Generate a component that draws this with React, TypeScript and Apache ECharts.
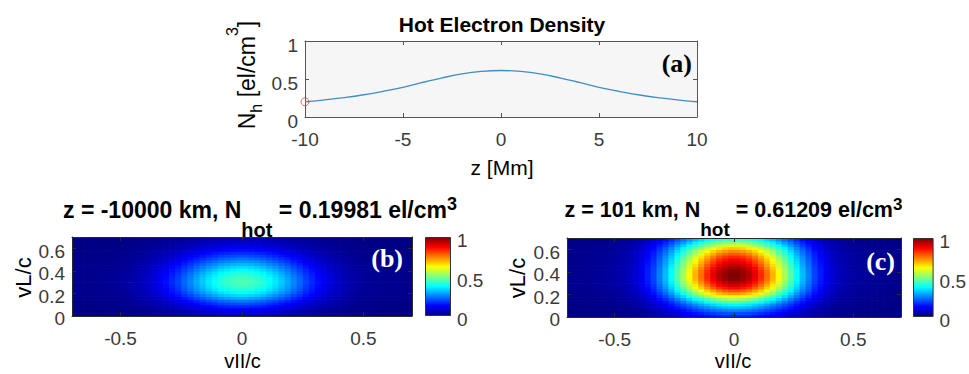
import React, { useEffect, useRef } from 'react';
import * as echarts from 'echarts';

// ---------- data ----------
// (a) hot electron density along z
const zMm = [-10, -9, -8, -7, -6, -5, -4, -3, -2, -1, 0, 1, 2, 3, 4, 5, 6, 7, 8, 9, 10];
const nHot = [0.2, 0.225, 0.255, 0.292, 0.338, 0.39, 0.455, 0.515, 0.567, 0.6, 0.612, 0.6, 0.567, 0.515, 0.455, 0.39, 0.338, 0.292, 0.255, 0.225, 0.2];
const markerZ = [-10];
const markerN = [0.19981];
const zTicks = [-10, -5, 0, 5, 10];
const nTicks = [0, 0.5, 1];

// velocity grid cell centres (v/c)
const vParCenters = [
  -0.6875, -0.6625, -0.6375, -0.6125, -0.5875, -0.5625, -0.5375, -0.5125, -0.4875, -0.4625,
  -0.4375, -0.4125, -0.3875, -0.3625, -0.3375, -0.3125, -0.2875, -0.2625, -0.2375, -0.2125,
  -0.1875, -0.1625, -0.1375, -0.1125, -0.0875, -0.0625, -0.0375, -0.0125,
  0.0125, 0.0375, 0.0625, 0.0875, 0.1125, 0.1375, 0.1625, 0.1875, 0.2125, 0.2375,
  0.2625, 0.2875, 0.3125, 0.3375, 0.3625, 0.3875, 0.4125, 0.4375, 0.4625, 0.4875,
  0.5125, 0.5375, 0.5625, 0.5875, 0.6125, 0.6375, 0.6625, 0.6875,
];
const vPerpCenters = [
  0.0125, 0.0375, 0.0625, 0.0875, 0.1125, 0.1375, 0.1625, 0.1875, 0.2125, 0.2375,
  0.2625, 0.2875, 0.3125, 0.3375, 0.3625, 0.3875, 0.4125, 0.4375, 0.4625, 0.4875,
  0.5125, 0.5375, 0.5625, 0.5875, 0.6125, 0.6375, 0.6625, 0.6875,
];

// (b) z = -10000 km : profiles through the peak (relative), and the peak level
const bParProfile = [
  0.02, 0.022, 0.025, 0.028, 0.032, 0.037, 0.043, 0.05, 0.06, 0.08, 0.1, 0.13, 0.16, 0.2,
  0.25, 0.3, 0.36, 0.42, 0.5, 0.57, 0.65, 0.72, 0.79, 0.85, 0.91, 0.95, 0.98, 1,
  1, 0.98, 0.95, 0.91, 0.85, 0.79, 0.72, 0.65, 0.57, 0.5, 0.42, 0.36, 0.3, 0.25,
  0.2, 0.16, 0.13, 0.1, 0.08, 0.06, 0.05, 0.043, 0.037, 0.032, 0.028, 0.025, 0.022, 0.02,
];
const bPerpProfile = [
  0.15, 0.2, 0.27, 0.35, 0.44, 0.54, 0.65, 0.75, 0.84, 0.91, 0.96, 0.99, 1, 0.98,
  0.95, 0.9, 0.83, 0.76, 0.68, 0.6, 0.52, 0.44, 0.37, 0.3, 0.24, 0.19, 0.15, 0.11,
];
const bPeak = 0.45;

// (c) z = 101 km
const cParProfile = [
  0.01, 0.012, 0.014, 0.016, 0.019, 0.022, 0.026, 0.03, 0.037, 0.047, 0.06, 0.08, 0.11, 0.15,
  0.19, 0.25, 0.31, 0.38, 0.46, 0.54, 0.62, 0.7, 0.77, 0.84, 0.9, 0.95, 0.98, 1,
  1, 0.98, 0.95, 0.9, 0.84, 0.77, 0.7, 0.62, 0.54, 0.46, 0.38, 0.31, 0.25, 0.19,
  0.15, 0.11, 0.08, 0.06, 0.047, 0.037, 0.03, 0.026, 0.022, 0.019, 0.016, 0.014, 0.012, 0.01,
];
const cPerpProfile = [
  0.16, 0.2, 0.25, 0.31, 0.37, 0.45, 0.54, 0.63, 0.72, 0.8, 0.87, 0.92, 0.96, 0.99,
  1, 1, 0.99, 0.97, 0.94, 0.91, 0.88, 0.84, 0.79, 0.74, 0.68, 0.6, 0.52, 0.44,
];
const cPeak = 1;

const vParTicks = [-0.5, 0, 0.5];
const vPerpTicks = [0, 0.2, 0.4, 0.6];
const colorbarTicks = [0, 0.5, 1];
const colorbarValue = [1];

// ---------- styling ----------
const SANS = '"Liberation Sans", Arial, Helvetica, sans-serif';
const SERIF = '"Liberation Serif", "Times New Roman", serif';
const TICK_COLOR = '#3a3a3a';
const AXIS_COLOR = '#2a2a2a';
const JET = ['#000083', '#0000ff', '#0080ff', '#00ffff', '#80ff80', '#ffff00', '#ff8000', '#ff0000', '#800000'];

type Part = { t: string; s: number; dy?: number };

let measureCtx: CanvasRenderingContext2D | null = null;
function textWidth(t: string, size: number, weight: string) {
  if (!measureCtx) measureCtx = document.createElement('canvas').getContext('2d');
  measureCtx!.font = `${weight} ${size}px ${SANS}`;
  return measureCtx!.measureText(t).width;
}

// text with sub/superscripts; (x,y) = centre of the run on the main baseline
function texLabel(parts: Part[], x: number, y: number, weight: string, rotation = 0, color = '#000') {
  const widths = parts.map((p) => textWidth(p.t, p.s, weight));
  const total = widths.reduce((a, b) => a + b, 0);
  let cursor = -total / 2;
  const children: any[] = [];
  parts.forEach((p, i) => {
    const trimmedStart = p.t.replace(/^\s+/, '');
    const lead = p.t.length - trimmedStart.length;
    const leadW = lead ? textWidth(p.t.slice(0, lead), p.s, weight) : 0;
    children.push({
      type: 'text',
      x: cursor + leadW,
      y: (p.dy || 0) - 0.3465 * p.s,
      style: {
        text: trimmedStart.replace(/\s+$/, ''),
        fontSize: p.s,
        fontWeight: weight,
        fontFamily: SANS,
        fill: color,
        textAlign: 'left',
        textVerticalAlign: 'middle',
      },
    });
    cursor += widths[i];
  });
  return { type: 'group', x, y, rotation, children };
}

function buildHeat(par: number[], perp: number[], peak: number) {
  const out: number[][] = [];
  vPerpCenters.forEach((vy, j) => {
    vParCenters.forEach((vx, i) => {
      out.push([vx, vy, peak * par[i] * perp[j]]);
    });
  });
  return out;
}

const cellW = vParCenters[1] - vParCenters[0];
const cellH = vPerpCenters[1] - vPerpCenters[0];

function heatRender(params: any, api: any) {
  const x = api.value(0);
  const y = api.value(1);
  const p0 = api.coord([x - cellW / 2, y + cellH / 2]);
  const p1 = api.coord([x + cellW / 2, y - cellH / 2]);
  const cs = params.coordSys;
  const right = Math.min(p1[0] + 0.7, cs.x + cs.width);
  const bottom = Math.min(p1[1] + 0.7, cs.y + cs.height);
  return {
    type: 'rect',
    shape: { x: p0[0], y: p0[1], width: right - p0[0], height: bottom - p0[1] },
    style: { fill: api.visual('color') },
  };
}

const tickLabel = (size = 19) => ({ fontSize: size, fontFamily: SANS, color: TICK_COLOR });

// y tick labels sit a few pixels below their ticks in the reference
const shiftedY = (shift: number) => ({ verticalAlign: 'top', lineHeight: shift * 2 });

function heatAxes(gridIndex: number) {
  const x = [
    {
      type: 'value', gridIndex, min: -0.7, max: 0.7, position: 'bottom',
      axisLine: { show: true, onZero: false, lineStyle: { color: AXIS_COLOR, width: 1 } },
      axisTick: { show: true, inside: true, length: 4, customValues: vParTicks, lineStyle: { color: AXIS_COLOR } },
      axisLabel: { ...tickLabel(19), margin: 13, customValues: vParTicks },
      splitLine: { show: false }, z: 10,
    },
    {
      type: 'value', gridIndex, min: -0.7, max: 0.7, position: 'top',
      axisLine: { show: true, onZero: false, lineStyle: { color: AXIS_COLOR, width: 1 } },
      axisTick: { show: true, inside: true, length: 4, customValues: vParTicks, lineStyle: { color: AXIS_COLOR } },
      axisLabel: { show: false }, splitLine: { show: false }, z: 10,
    },
  ];
  const y = [
    {
      type: 'value', gridIndex, min: 0, max: 0.7, position: 'left',
      axisLine: { show: true, onZero: false, lineStyle: { color: AXIS_COLOR, width: 1 } },
      axisTick: { show: true, inside: true, length: 4, customValues: vPerpTicks, lineStyle: { color: AXIS_COLOR } },
      axisLabel: { ...tickLabel(19), margin: 7, customValues: vPerpTicks, ...shiftedY(2.8) },
      splitLine: { show: false }, z: 10,
    },
    {
      type: 'value', gridIndex, min: 0, max: 0.7, position: 'right',
      axisLine: { show: true, onZero: false, lineStyle: { color: AXIS_COLOR, width: 1 } },
      axisTick: { show: true, inside: true, length: 4, customValues: vPerpTicks, lineStyle: { color: AXIS_COLOR } },
      axisLabel: { show: false }, splitLine: { show: false }, z: 10,
    },
  ];
  return { x, y };
}

function colorbarAxes(gridIndex: number) {
  return {
    x: {
      type: 'category', gridIndex, data: [''], show: false, boundaryGap: true,
    },
    y: {
      type: 'value', gridIndex, min: colorbarTicks[0], max: colorbarTicks[2], interval: colorbarTicks[1] - colorbarTicks[0],
      position: 'right',
      axisLine: { show: false }, axisTick: { show: false }, splitLine: { show: false },
      axisLabel: { ...tickLabel(19), margin: 6, ...shiftedY(3.5) },
    },
  };
}

export default function App() {
  const ref = useRef<HTMLDivElement>(null);

  useEffect(() => {
    document.body.style.margin = '0';
    if (!ref.current) return;
    const chart = echarts.init(ref.current, undefined, { renderer: 'svg' });

    const hb = heatAxes(1);
    const hc = heatAxes(2);
    const cbb = colorbarAxes(3);
    const cbc = colorbarAxes(4);

    const gradient = new echarts.graphic.LinearGradient(
      0, 1, 0, 0,
      JET.map((c, i) => ({ offset: i / (JET.length - 1), color: c })),
    );

    const option: any = {
      animation: false,
      backgroundColor: '#ffffff',
      grid: [
        { left: 305, top: 41, width: 392, height: 76, show: true, backgroundColor: '#f6f6f6', borderWidth: 0 },
        { left: 72, top: 237, width: 340, height: 79 },
        { left: 567, top: 238, width: 334, height: 79 },
        { left: 425, top: 237, width: 26, height: 79 },
        { left: 913, top: 238, width: 25, height: 79 },
      ],
      xAxis: [
        {
          type: 'value', gridIndex: 0, min: zTicks[0], max: zTicks[zTicks.length - 1], interval: zTicks[1] - zTicks[0],
          position: 'bottom',
          axisLine: { show: true, onZero: false, lineStyle: { color: '#555', width: 1 } },
          axisTick: { show: true, inside: true, length: 4, lineStyle: { color: '#555' } },
          axisLabel: { ...tickLabel(19), margin: 13 },
          splitLine: { show: false },
        },
        {
          type: 'value', gridIndex: 0, min: zTicks[0], max: zTicks[zTicks.length - 1], interval: zTicks[1] - zTicks[0],
          position: 'top',
          axisLine: { show: true, onZero: false, lineStyle: { color: '#555', width: 1 } },
          axisTick: { show: true, inside: true, length: 4, lineStyle: { color: '#555' } },
          axisLabel: { show: false }, splitLine: { show: false },
        },
        hb.x[0], hb.x[1], hc.x[0], hc.x[1], cbb.x, cbc.x,
      ],
      yAxis: [
        {
          type: 'value', gridIndex: 0, min: nTicks[0], max: nTicks[2], interval: nTicks[1] - nTicks[0],
          position: 'left',
          axisLine: { show: true, onZero: false, lineStyle: { color: '#555', width: 1 } },
          axisTick: { show: true, inside: true, length: 4, lineStyle: { color: '#555' } },
          axisLabel: { ...tickLabel(19), margin: 7, ...shiftedY(4.5) },
          splitLine: { show: false },
        },
        {
          type: 'value', gridIndex: 0, min: nTicks[0], max: nTicks[2], interval: nTicks[1] - nTicks[0],
          position: 'right',
          axisLine: { show: true, onZero: false, lineStyle: { color: '#555', width: 1 } },
          axisTick: { show: true, inside: true, length: 4, lineStyle: { color: '#555' } },
          axisLabel: { show: false }, splitLine: { show: false },
        },
        hb.y[0], hb.y[1], hc.y[0], hc.y[1], cbb.y, cbc.y,
      ],
      visualMap: {
        type: 'continuous', show: false, min: 0, max: 1, dimension: 2, seriesIndex: [2, 3],
        inRange: { color: JET },
      },
      series: [
        {
          type: 'line', xAxisIndex: 0, yAxisIndex: 0, smooth: 0.4, showSymbol: false,
          data: zMm.map((z, i) => [z, nHot[i]]),
          lineStyle: { color: '#3f8fc4', width: 1.4 },
          itemStyle: { color: '#3f8fc4' },
        },
        {
          type: 'scatter', xAxisIndex: 0, yAxisIndex: 0, symbol: 'circle', symbolSize: 8,
          data: markerZ.map((z, i) => [z, markerN[i]]),
          itemStyle: { color: 'rgba(0,0,0,0)', borderColor: '#d0504f', borderWidth: 1 },
          z: 5,
        },
        {
          type: 'custom', xAxisIndex: 2, yAxisIndex: 2, renderItem: heatRender, clip: true,
          encode: { x: 0, y: 1 }, data: buildHeat(bParProfile, bPerpProfile, bPeak),
        },
        {
          type: 'custom', xAxisIndex: 4, yAxisIndex: 4, renderItem: heatRender, clip: true,
          encode: { x: 0, y: 1 }, data: buildHeat(cParProfile, cPerpProfile, cPeak),
        },
        {
          type: 'bar', xAxisIndex: 6, yAxisIndex: 6, barWidth: '100%', data: colorbarValue,
          itemStyle: { color: gradient, borderColor: '#333', borderWidth: 1 },
        },
        {
          type: 'bar', xAxisIndex: 7, yAxisIndex: 7, barWidth: '100%', data: colorbarValue,
          itemStyle: { color: gradient, borderColor: '#333', borderWidth: 1 },
        },
      ],
      graphic: [
        texLabel([{ t: 'Hot Electron Density', s: 21 }], 502, 32, 'bold'),
        texLabel(
          [{ t: 'N', s: 23 }, { t: 'h', s: 16, dy: 6.7 }, { t: ' [el/cm', s: 23 }, { t: '3', s: 16, dy: -16.7 }, { t: ']', s: 23 }],
          255, 75, 'normal', Math.PI / 2,
        ),
        texLabel([{ t: 'z [Mm]', s: 21 }], 502, 175, 'normal'),
        texLabel(
          [{ t: 'z = -10000 km, N', s: 23 }, { t: 'hot', s: 20, dy: 18.4 }, { t: ' = 0.19981 el/cm', s: 23 }, { t: '3', s: 18, dy: -8.3 }],
          260, 218.3, 'bold',
        ),
        texLabel(
          [{ t: 'z = 101 km, N', s: 21.5 }, { t: 'hot', s: 19, dy: 18 }, { t: ' = 0.61209 el/cm', s: 21.5 }, { t: '3', s: 17, dy: -7.7 }],
          733.5, 217.7, 'bold',
        ),
        texLabel([{ t: 'vL/c', s: 22 }], 31.5, 277.5, 'normal', Math.PI / 2),
        texLabel([{ t: 'vL/c', s: 22 }], 525, 278, 'normal', Math.PI / 2),
        texLabel([{ t: 'vII/c', s: 20 }], 242.5, 368, 'normal'),
        texLabel([{ t: 'vII/c', s: 20 }], 733, 368, 'normal'),
        {
          type: 'text', x: 692, y: 63,
          style: { text: '(a)', fontSize: 26, fontWeight: 'bold', fontFamily: SERIF, fill: '#000', textAlign: 'right', textVerticalAlign: 'middle' },
          z: 20,
        },
        {
          type: 'text', x: 403, y: 258,
          style: { text: '(b)', fontSize: 26, fontWeight: 'bold', fontFamily: SERIF, fill: '#fff', textAlign: 'right', textVerticalAlign: 'middle' },
          z: 20,
        },
        {
          type: 'text', x: 895, y: 261,
          style: { text: '(c)', fontSize: 26, fontWeight: 'bold', fontFamily: SERIF, fill: '#fff', textAlign: 'right', textVerticalAlign: 'middle' },
          z: 20,
        },
      ],
    };

    chart.setOption(option);
    return () => chart.dispose();
  }, []);

  return <div ref={ref} style={{ width: 969, height: 374 }} />;
}
